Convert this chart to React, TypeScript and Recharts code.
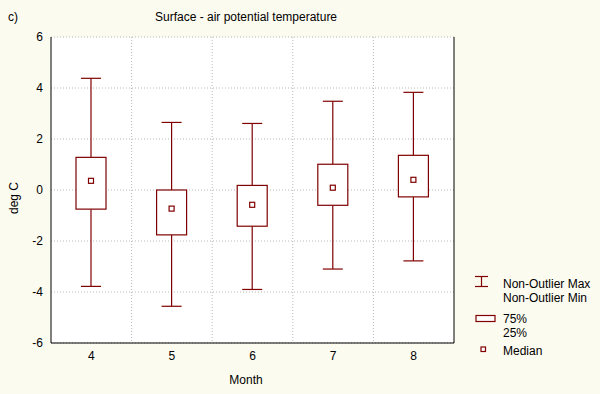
import { Bar, CartesianGrid, ComposedChart, XAxis, YAxis } from 'recharts';

const months = ['4', '5', '6', '7', '8'];
const whiskerMax = [4.38, 2.65, 2.61, 3.48, 3.83];
const q75 = [1.28, 0.0, 0.18, 1.01, 1.36];
const median = [0.36, -0.73, -0.58, 0.09, 0.4];
const q25 = [-0.75, -1.76, -1.42, -0.6, -0.27];
const whiskerMin = [-3.78, -4.56, -3.9, -3.1, -2.78];
const yTicks = [-6, -4, -2, 0, 2, 4, 6];

const boxData = months.map((month, i) => ({
  month,
  range: [whiskerMin[i], whiskerMax[i]],
  min: whiskerMin[i],
  q25: q25[i],
  median: median[i],
  q75: q75[i],
  max: whiskerMax[i],
}));

const MAROON = '#800000';
const FONT = '"Liberation Sans", Arial, sans-serif';

const BoxShape = (props: any) => {
  const { x, y, width, height, payload } = props;
  const top = Math.min(y, y + height);
  const h = Math.abs(height);
  const k = h / (payload.max - payload.min);
  const py = (v: number) => top + (payload.max - v) * k;
  const cx = x + width / 2;
  const cap = 10;
  return (
    <g stroke={MAROON} strokeWidth={1.2} fill="none">
      <line x1={cx} x2={cx} y1={py(payload.max)} y2={py(payload.q75)} />
      <line x1={cx} x2={cx} y1={py(payload.q25)} y2={py(payload.min)} />
      <line x1={cx - cap} x2={cx + cap} y1={py(payload.max)} y2={py(payload.max)} />
      <line x1={cx - cap} x2={cx + cap} y1={py(payload.min)} y2={py(payload.min)} />
      <rect x={x} y={py(payload.q75)} width={width} height={py(payload.q25) - py(payload.q75)} fill="#fff" />
      <rect x={cx - 2.5} y={py(payload.median) - 2.5} width={5} height={5} fill="#fff" />
    </g>
  );
};

export default function App() {
  const textStyle = { fontFamily: FONT, fontSize: 12, fill: '#000' };
  return (
    <div style={{ position: 'absolute', left: 0, top: 0, width: 600, height: 394, background: '#fcfbf0' }}>
      <ComposedChart
        width={600}
        height={394}
        data={boxData}
        margin={{ top: 37, right: 136, bottom: 0, left: 0 }}
      >
        <CartesianGrid
          fill="#fff"
          stroke="#b8b8b8"
          strokeDasharray="1 2"
          verticalCoordinatesGenerator={({ offset }: any) =>
            [1, 2, 3, 4].map(i => offset.left + (i * offset.width) / 5)
          }
        />
        <XAxis
          dataKey="month"
          axisLine={{ stroke: '#000' }}
          tickLine={false}
          height={51}
          tick={{ ...textStyle }}
        />
        <XAxis
          xAxisId="top"
          dataKey="month"
          orientation="top"
          height={0}
          axisLine={{ stroke: '#000' }}
          tick={false}
          tickLine={false}
        />
        <YAxis
          domain={[-6, 6]}
          ticks={yTicks}
          width={51}
          axisLine={{ stroke: '#000' }}
          tickLine={false}
          tick={{ ...textStyle }}
        />
        <YAxis
          yAxisId="r"
          orientation="right"
          domain={[-6, 6]}
          ticks={yTicks}
          width={10}
          axisLine={{ stroke: '#000' }}
          tickLine={{ stroke: '#000' }}
          tickSize={5}
          tickFormatter={() => ''}
        />
        <Bar dataKey="range" barSize={30} shape={BoxShape} isAnimationActive={false} />
      </ComposedChart>
      <svg width={600} height={394} style={{ position: 'absolute', left: 0, top: 0, pointerEvents: 'none' }}>
        <g style={{ fontFamily: FONT, fontSize: 12 }} fill="#000">
          <text x={8} y={17} dominantBaseline="central">c)</text>
          <text x={246} y={17} textAnchor="middle" dominantBaseline="central">
            Surface - air potential temperature
          </text>
          <text x={246} y={380} textAnchor="middle" dominantBaseline="central">Month</text>
          <text x={14} y={198} textAnchor="middle" dominantBaseline="central" transform="rotate(-90 14 198)">
            deg C
          </text>
          <text x={503} y={284} dominantBaseline="central">Non-Outlier Max</text>
          <text x={503} y={298} dominantBaseline="central">Non-Outlier Min</text>
          <text x={503} y={319} dominantBaseline="central">75%</text>
          <text x={503} y={333} dominantBaseline="central">25%</text>
          <text x={503} y={351} dominantBaseline="central">Median</text>
        </g>
        <g stroke={MAROON} strokeWidth={1.2} fill="none">
          <line x1={475} x2={488} y1={276.5} y2={276.5} />
          <line x1={481.5} x2={481.5} y1={276.5} y2={286.5} />
          <line x1={475} x2={488} y1={286.5} y2={286.5} />
          <rect x={476} y={315.5} width={19} height={6} fill="#fff" />
          <rect x={481} y={347} width={4.5} height={4.5} fill="#fff" />
        </g>
      </svg>
    </div>
  );
}
